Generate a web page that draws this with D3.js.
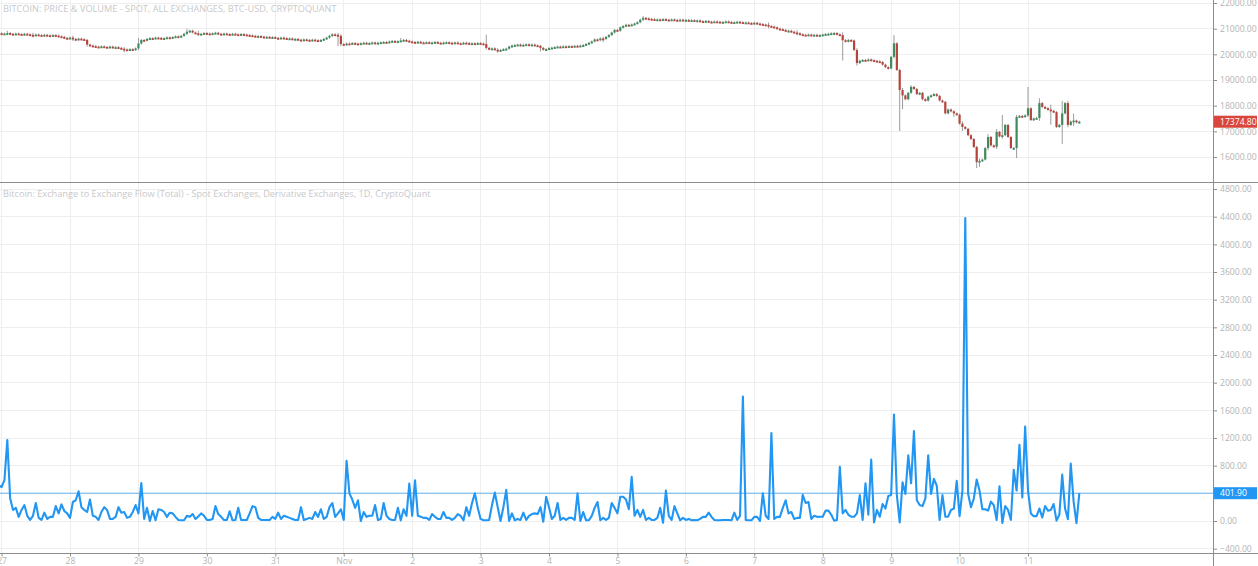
<!DOCTYPE html>
<html><head><meta charset="utf-8">
<script src="https://cdn.jsdelivr.net/npm/d3@7"></script>
<style>
body{margin:0;background:#fff;overflow:hidden}
svg{display:block}
text{font-family:"Open Sans","DejaVu Sans",sans-serif}
</style></head><body>
<svg id="c" width="1258" height="566"></svg>
<script>
// ---------- data ----------
const dayLabels = ["27","28","29","30","31","Nov","2","3","4","5","6","7","8","9","10","11"];
const dayDates = [
  Date.UTC(2022,9,27),Date.UTC(2022,9,28),Date.UTC(2022,9,29),Date.UTC(2022,9,30),Date.UTC(2022,9,31),
  Date.UTC(2022,10,1),Date.UTC(2022,10,2),Date.UTC(2022,10,3),Date.UTC(2022,10,4),Date.UTC(2022,10,5),
  Date.UTC(2022,10,6),Date.UTC(2022,10,7),Date.UTC(2022,10,8),Date.UTC(2022,10,9),Date.UTC(2022,10,10),
  Date.UTC(2022,10,11)];
const priceTicks = [16000,17000,18000,19000,20000,21000,22000];
const flowTicks = [-400,0,400,800,1200,1600,2000,2400,2800,3200,3600,4000,4400,4800];
const seriesStart = Date.UTC(2022,9,26,23); // hourly series
const priceTitle = "BITCOIN: PRICE & VOLUME - SPOT, ALL EXCHANGES, BTC-USD, CRYPTOQUANT";
const flowTitle = "Bitcoin: Exchange to Exchange Flow (Total) - Spot Exchanges, Derivative Exchanges, 1D, CryptoQuant";
const lastPrice = 17374.80;
const lastFlow = 401.90;

// hourly close prices (USD)
const priceClose = [
 20820,20790,20810,20830,20800,20780,20810,20790,20770,20800,20780,
 20760,20740,20770,20750,20730,20760,20740,20720,20750,20730,20700,
 20680,20640,20620,20650,20600,20580,20610,20590,20560,
 20380,20340,20320,20300,20280,20310,20290,20270,20300,20260,20280,20250,
 20220,20190,20170,20200,20180,20230,
 20420,20560,20540,
 20600,20630,20620,20650,20640,20610,20630,20660,20640,20670,20700,20690,20720,
 20800,20880,20920,20850,
 20820,20790,20800,20830,20810,20790,20820,20840,20800,20780,20810,20790,20770,20800,20780,20760,20790,20770,20750,
 20740,20720,20700,20710,20690,20660,20680,20650,20670,20640,20620,20650,20630,20600,20620,20580,20600,20570,20550,20580,20560,20540,20570,20550,20530,20560,20600,20650,
 20720,20780,20760,20720,
 20400,20380,20420,20410,20440,20420,20400,20430,20450,20420,20440,20460,20430,20450,20470,20480,20460,20500,20520,20490,20510,
 20540,20560,20530,
 20500,20480,20470,20490,20460,20450,20470,20440,20460,20480,20450,20430,20460,20470,20450,20440,20460,20430,20420,20450,20440,20420,20430,20410,20440,20420,20400,
 20250,
 20200,20230,20180,20150,20170,20200,20220,
 20300,20340,20360,20380,20350,20370,20390,20360,20380,20350,20330,
 20250,20180,20200,
 20240,20260,20280,20300,20290,20310,20300,20320,20310,20330,20320,20340,20360,20400,
 20450,20500,20580,20550,20620,20600,20680,20750,
 20850,20950,20920,
 21050,21100,21150,21130,21160,21200,21250,
 21350,21420,21400,21380,
 21370,21350,21360,21340,21370,21350,21330,21360,21340,21320,21350,21330,21340,21310,21330,21300,21320,
 21290,21280,21300,21270,21260,21280,21270,21250,21260,21280,21260,21240,21250,21270,21250,21230,21240,21220,21210,21230,21200,21180,21160,21150,21100,21080,21050,21000,
 20980,20950,20900,20920,20880,20850,20820,
 20780,20760,20750,20770,20740,20760,20730,20750,20770,20790,20800,
 20820,20830,20780,20750,
 20550,20500,
 20560,20540,
 20170,19660,
 19750,19780,19760,19800,19770,19750,19730,19700,
 19600,19500,19450,
 19900,20430,
 19390,
 18610,
 18400,18250,
 18500,18730,
 18650,
 18450,18500,
 18250,18200,
 18350,18400,18450,18380,
 18200,18150,
 17700,
 17850,17780,
 17700,17650,
 17300,17170,
 17100,
 16850,16700,16390,15800,15850,15900,16350,16780,16450,16400,16980,
 16800,16850,
 17250,16780,16350,16350,
 17560,
 17600,17580,
 17620,
 17900,
 17440,
 17500,17520,
 18100,
 17950,17900,17850,
 17800,17750,
 17170,17250,
 17700,18100,
 17250,
 17380,17420,17350,
 17374.8
];
// notable wicks: [hour index, high, low]
const priceWicks = [
 [3,20880,20780],[12,20800,20700],[26,20680,20560],[31,20560,20340],[44,20240,20120],[49,20600,20200],
 [66,20960,20780],[70,20880,20760],[119,20800,20360],[120,20740,20360],[141,20600,20500],
 [171,20720,20230],[175,20200,20100],[190,20280,20150],[212,20650,20520],[226,21460,21330],
 [270,21200,21050],[280,20900,20780],
 [296,20820,19800],[301,20200,19600],[314,20710,19880],[316,19400,17050],[317,18650,17900],
 [320,18760,18600],[335,17780,17600],[338,17350,17050],
 [343,16400,15610],[344,15900,15650],[347,16850,16300],[350,17050,16350],[352,17600,16750],
 [357,17600,16000],[361,18690,17600],[365,18250,17450],[369,18000,17300],[373,18150,16550],
 [375,18150,17200],[377,17650,17250]
];

// hourly exchange-to-exchange flow (BTC)
const flowValues = [
 520,490,590,1170,330,160,190,60,160,230,75,15,75,260,45,15,120,30,60,60,
 215,110,240,145,110,45,275,300,430,200,160,130,310,75,60,15,130,200,160,30,
 30,60,200,120,130,45,60,130,230,110,550,30,190,0,145,10,170,160,130,60,
 120,110,60,15,10,10,75,60,100,30,65,110,75,15,15,30,215,100,60,15,
 15,140,10,15,190,15,15,15,110,215,200,45,15,15,15,15,60,30,120,30,
 75,60,45,30,15,15,200,15,30,45,30,130,60,170,30,60,200,260,60,110,
 170,15,870,400,310,190,300,0,130,60,75,75,230,15,30,260,75,30,15,15,
 190,10,170,75,540,75,590,
 75,60,45,45,15,100,60,30,30,130,45,45,15,45,100,75,10,200,75,260,
 400,190,30,10,10,15,230,410,200,0,200,450,0,110,10,30,15,120,15,75,
 100,110,100,200,-10,350,200,30,75,260,15,45,15,45,45,15,400,0,130,10,
 10,75,190,275,10,45,15,45,260,190,110,350,350,310,170,640,75,160,60,160,
 15,45,15,15,45,190,-25,440,75,15,215,110,10,45,15,30,10,15,10,30,
 60,60,120,60,15,10,10,15,15,15,10,120,15,75,1800,15,10,10,60,60,
 0,400,75,30,1270,30,60,60,190,300,110,130,30,45,45,380,260,275,30,75,60,
 62,62,150,150,90,5,15,785,110,160,90,62,62,110,375,15,545,90,890,-20,
 160,62,245,180,360,375,1540,375,-20,560,390,950,545,1300,300,230,215,325,950,390,
 610,510,15,375,62,62,160,180,580,70,440,4380,390,200,325,600,440,170,170,150,
 280,230,15,500,-30,215,160,15,740,440,1100,340,1365,440,110,70,70,180,50,215,
 150,160,245,5,90,670,180,25,830,280,-30,401.9
];

// ---------- layout ----------
const W = 1258, H = 566;
const plotRight = 1213;
const sepY = 182, axisY = 553.5;
const svg = d3.select("#c");
const HOUR = 3600000;

const x = d3.scaleUtc()
  .domain([dayDates[0], dayDates[dayDates.length-1]])
  .range([1.6, 1028.0]);
const yP = d3.scaleLinear().domain([16000, 22000]).range([157, 3]);
const yF = d3.scaleLinear().domain([0, 4800]).range([521, 189]);

const gridCol = "#eeeeee", txtCol = "#b4b4b4", axisCol = "#8c8c8c";

// clip paths
const defs = svg.append("defs");
defs.append("clipPath").attr("id","cpTop").append("rect").attr("x",0).attr("y",0).attr("width",plotRight).attr("height",sepY);
defs.append("clipPath").attr("id","cpBot").append("rect").attr("x",0).attr("y",sepY).attr("width",plotRight).attr("height",axisY-sepY);

// gridlines
const grid = svg.append("g");
dayDates.forEach(d => {
  grid.append("line").attr("x1",x(d)).attr("x2",x(d)).attr("y1",0).attr("y2",axisY)
    .attr("stroke",gridCol).attr("stroke-width",1).attr("shape-rendering","crispEdges");
});
priceTicks.forEach(v => {
  grid.append("line").attr("x1",0).attr("x2",plotRight).attr("y1",yP(v)).attr("y2",yP(v))
    .attr("stroke",gridCol).attr("shape-rendering","crispEdges");
});
flowTicks.forEach(v => {
  grid.append("line").attr("x1",0).attr("x2",plotRight).attr("y1",yF(v)).attr("y2",yF(v))
    .attr("stroke",gridCol).attr("shape-rendering","crispEdges");
});

// titles
svg.append("text").attr("x",3).attr("y",12).attr("font-size",9.2).attr("fill","#c9c9c9").text(priceTitle);
svg.append("text").attr("x",3).attr("y",197).attr("font-size",9.2).attr("fill","#c9c9c9").text(flowTitle);

// candles
const wickMap = new Map(priceWicks.map(w => [w[0], w]));
const candles = priceClose.map((c, i) => {
  const o = i > 0 ? priceClose[i-1] : c;
  const w = wickMap.get(i);
  return {t: seriesStart + i*HOUR, o, c,
    h: w ? Math.max(w[1], o, c) : Math.max(o, c),
    l: w ? Math.min(w[2], o, c) : Math.min(o, c)};
});
const gC = svg.append("g").attr("clip-path","url(#cpTop)");
const upCol = "#3d8a5c", dnCol = "#b5443c";
gC.selectAll("line.w").data(candles).join("line")
  .attr("x1",d=>x(d.t)).attr("x2",d=>x(d.t))
  .attr("y1",d=>yP(d.h)-1).attr("y2",d=>yP(d.l)+1)
  .attr("stroke","#8f8f8f").attr("stroke-width",0.9);
gC.selectAll("rect.b").data(candles).join("rect")
  .attr("x",d=>x(d.t)-1.1).attr("width",2.2)
  .attr("y",d=>yP(Math.max(d.o,d.c)))
  .attr("height",d=>Math.max(1.8, yP(Math.min(d.o,d.c)) - yP(Math.max(d.o,d.c))))
  .attr("fill",d=> d.c >= d.o ? upCol : dnCol);

// flow line
const gF = svg.append("g").attr("clip-path","url(#cpBot)");
gF.append("line").attr("x1",0).attr("x2",plotRight).attr("y1",yF(lastFlow)).attr("y2",yF(lastFlow))
  .attr("stroke","#2196f3").attr("stroke-width",0.8).attr("opacity",0.85);
const line = d3.line().x((v,i)=>x(seriesStart + i*HOUR)).y(v=>yF(v));
gF.append("path").attr("d",line(flowValues)).attr("fill","none")
  .attr("stroke","#2196f3").attr("stroke-width",2.1).attr("stroke-linejoin","round");

// separators & axes lines
svg.append("line").attr("x1",0).attr("x2",W).attr("y1",sepY).attr("y2",sepY)
  .attr("stroke",axisCol).attr("shape-rendering","crispEdges");
svg.append("line").attr("x1",plotRight).attr("x2",plotRight).attr("y1",0).attr("y2",H)
  .attr("stroke",axisCol).attr("shape-rendering","crispEdges");
svg.append("line").attr("x1",0).attr("x2",W).attr("y1",axisY).attr("y2",axisY)
  .attr("stroke",axisCol).attr("shape-rendering","crispEdges");

// right axes
const fmt = d3.format(".2f");
const axP = d3.axisRight(yP).tickValues(priceTicks).tickSize(4).tickFormat(fmt);
const gAP = svg.append("g").attr("transform",`translate(${plotRight},0)`).call(axP);
const axF = d3.axisRight(yF).tickValues(flowTicks).tickSize(4).tickFormat(fmt);
const gAF = svg.append("g").attr("transform",`translate(${plotRight},0)`).call(axF);
[gAP,gAF].forEach(g => {
  g.select(".domain").remove();
  g.selectAll("line").attr("stroke",axisCol);
  g.selectAll("text").attr("fill",txtCol).attr("font-size",8.6).attr("x",7)
    .attr("font-family",'"Open Sans","DejaVu Sans",sans-serif');
});

// bottom time axis
const axX = d3.axisBottom(x).tickValues(dayDates).tickSize(3)
  .tickFormat((d,i)=>dayLabels[i]);
const gAX = svg.append("g").attr("transform",`translate(0,${axisY})`).call(axX);
gAX.select(".domain").remove();
gAX.selectAll("line").attr("stroke",axisCol);
gAX.selectAll("text").attr("fill",txtCol).attr("font-size",8.6).attr("dy","0.55em")
  .attr("font-family",'"Open Sans","DejaVu Sans",sans-serif');

// last value labels
function lastLabel(yv, col, txt){
  const g = svg.append("g");
  g.append("rect").attr("x",plotRight+1).attr("y",yv-6).attr("width",W-plotRight-2).attr("height",12).attr("fill",col);
  g.append("text").attr("x",plotRight+7).attr("y",yv).attr("dy","0.35em").attr("fill","#fff")
    .attr("font-size",8.6).text(txt);
}
lastLabel(yP(lastPrice), "#d9473c", fmt(lastPrice));
lastLabel(yF(lastFlow), "#2196f3", fmt(lastFlow));
</script>
</body></html>
